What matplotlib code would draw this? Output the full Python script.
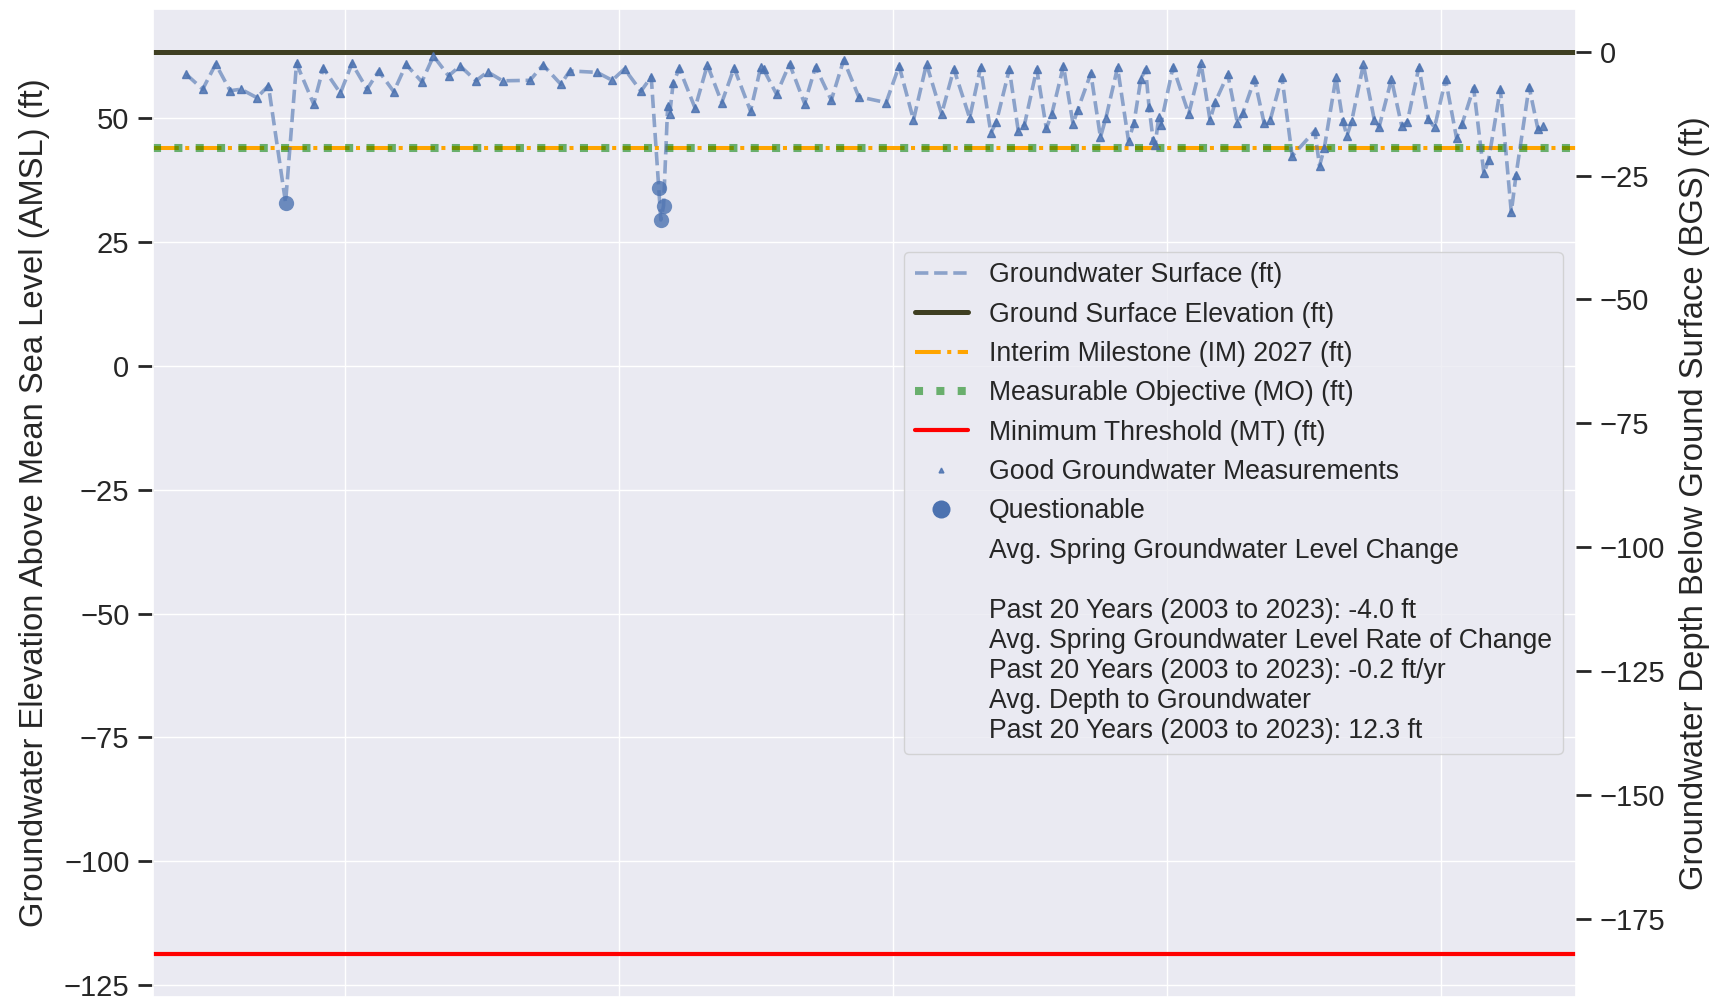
import matplotlib
matplotlib.use("Agg")
import matplotlib.pyplot as plt
from matplotlib.lines import Line2D
from matplotlib.ticker import MultipleLocator
import numpy as np
import seaborn as sns

# Spring/fall water level readings (decimal year, elevation ft AMSL)
good_year = [
    2001.68, 2001.92, 2002.11, 2002.32, 2002.48, 2002.71, 2002.88,
    2003.29, 2003.54, 2003.68, 2003.93,
    2004.10, 2004.32, 2004.49, 2004.71, 2004.89,
    2005.12, 2005.29, 2005.51, 2005.68, 2005.91,
    2006.08, 2006.30, 2006.70, 2006.89,
    2007.15, 2007.28, 2007.68, 2007.90,
    2008.08, 2008.32, 2008.47, 2008.71, 2008.74, 2008.79, 2008.88,
    2009.11, 2009.29, 2009.50, 2009.68, 2009.92,
    2010.07, 2010.11, 2010.30, 2010.49, 2010.71, 2010.87,
    2011.10, 2011.28, 2011.50, 2011.90,
    2012.09, 2012.30, 2012.49, 2012.71, 2012.89,
    2013.12, 2013.28, 2013.43, 2013.51, 2013.70, 2013.83, 2013.92,
    2014.10, 2014.24, 2014.32, 2014.49, 2014.63, 2014.70, 2014.89,
    2015.03, 2015.11, 2015.28, 2015.44, 2015.52, 2015.62, 2015.69,
    2015.74, 2015.80, 2015.83, 2015.88, 2015.91,
    2016.09, 2016.32, 2016.50, 2016.63, 2016.71, 2016.89,
    2017.03, 2017.11, 2017.28, 2017.42, 2017.51, 2017.68, 2017.83,
    2018.16, 2018.23, 2018.30, 2018.47, 2018.57, 2018.63, 2018.70, 2018.87,
    2019.03, 2019.10, 2019.28, 2019.43, 2019.51, 2019.68, 2019.82, 2019.91,
    2020.07, 2020.23, 2020.31, 2020.48, 2020.63, 2020.70, 2020.87,
    2021.03, 2021.10, 2021.29, 2021.42, 2021.50,
]
good_elev = [
    58.9, 55.9, 61.0, 55.6, 55.9, 54.2, 56.6,
    61.1, 52.9, 60.2, 55.1,
    61.1, 55.9, 59.6, 55.4, 60.9,
    57.4, 62.6, 58.6, 60.6, 57.6,
    59.4, 57.6, 57.7, 60.8,
    56.9, 59.6, 59.3, 57.7,
    60.0, 55.5, 58.4, 52.5, 50.9, 57.1, 60.1,
    52.1, 60.8, 53.2, 60.2, 51.5,
    60.4, 59.9, 54.9, 61.0, 53.0, 60.4,
    53.7, 61.8, 54.4, 53.2,
    60.6, 49.7, 61.0, 50.9, 60.0,
    50.1, 60.3, 47.1, 49.3, 59.9, 47.5, 48.7,
    60.0, 48.0, 50.9, 60.6, 48.9, 51.8, 59.1,
    46.2, 50.1, 60.3, 45.5, 49.1, 57.9, 60.0,
    52.3, 45.6, 44.6, 50.2, 48.7,
    60.4, 50.9, 61.1, 49.7, 53.4, 58.9,
    49.1, 51.1, 57.9, 49.1, 49.7, 58.4, 42.4,
    47.5, 40.4, 44.1, 58.3, 49.5, 46.5, 49.5, 60.9,
    49.7, 48.3, 57.9, 48.5, 49.2, 60.3, 49.8, 48.2,
    57.9, 46.1, 48.8, 56.2, 38.9, 41.7, 55.9,
    31.1, 38.6, 56.4, 47.8, 48.5,
]
questionable_year = [2003.13, 2008.58, 2008.61, 2008.65]
questionable_elev = [33.0, 35.9, 29.5, 32.4]

ground_surface_elev = 63.45
interim_milestone = 44.0
measurable_objective = 44.0
minimum_threshold = -118.7

grid_years = [2004, 2008, 2012, 2016, 2020]

stats_label = (
    "Avg. Spring Groundwater Level Change\n\n"
    "Past 20 Years (2003 to 2023): -4.0 ft\n"
    "Avg. Spring Groundwater Level Rate of Change\n"
    "Past 20 Years (2003 to 2023): -0.2 ft/yr\n"
    "Avg. Depth to Groundwater\n"
    "Past 20 Years (2003 to 2023): 12.3 ft"
)

sns.set_theme(style="darkgrid")
plt.rcParams["font.family"] = ["Liberation Sans", "DejaVu Sans"]
FS_LEGEND = 19.15
FS_TICK = 21
FS_LABEL = 23.6

blue = "#4C72B0"

fig = plt.figure(figsize=(17.18, 10.0), dpi=100)
ax = fig.add_axes([0.0891, 0.003, 0.9173 - 0.0891, 0.991 - 0.003])

# full hydrograph (good + questionable readings in time order)
all_year = np.array(good_year + questionable_year)
all_elev = np.array(good_elev + questionable_elev)
order = np.argsort(all_year)
ax.plot(all_year[order], all_elev[order], linestyle="--", color=blue,
        alpha=0.6, linewidth=2.6, zorder=3)
ax.plot(good_year, good_elev, linestyle="none", marker="^", markersize=5.5,
        color=blue, alpha=0.85, zorder=4)
ax.plot(questionable_year, questionable_elev, linestyle="none", marker="o",
        markersize=11, color=blue, alpha=0.8, markeredgewidth=0, zorder=4)

# reference levels
ax.axhline(ground_surface_elev, color="#3f3f22", linewidth=3.6, zorder=2)
ax.axhline(interim_milestone, color="orange", linestyle="-.", linewidth=2.9, zorder=2)
ax.axhline(measurable_objective, color="green", linestyle=":", linewidth=5.8,
           alpha=0.55, zorder=2)
ax.axhline(minimum_threshold, color="red", linewidth=3.0, zorder=2)

ax.set_xlim(2001.195, 2021.974)
ax.set_ylim(-127.4, 72.1)
ax.set_xticks(grid_years)
ax.yaxis.set_major_locator(MultipleLocator(25))
ax.tick_params(axis="x", length=0, labelbottom=False)
ax.tick_params(axis="y", left=True, length=11, width=2, color=".15",
               labelsize=FS_TICK, pad=6)
ax.set_ylabel("Groundwater Elevation Above Mean Sea Level (AMSL) (ft)",
              fontsize=FS_LABEL, labelpad=10)

# depth below ground surface on the right
ax2 = ax.twinx()
lo, hi = ax.get_ylim()
ax2.set_ylim(lo - ground_surface_elev, hi - ground_surface_elev)
ax2.yaxis.set_major_locator(MultipleLocator(25))
ax2.grid(False)
ax2.tick_params(axis="y", right=True, length=11, width=2, color=".15",
                labelsize=FS_TICK, pad=6)
ax2.set_ylabel("Groundwater Depth Below Ground Surface (BGS) (ft)",
               fontsize=FS_LABEL, labelpad=10)
for s in ax2.spines.values():
    s.set_visible(False)

handles = [
    Line2D([], [], color=blue, linestyle="--", alpha=0.6, linewidth=2.6),
    Line2D([], [], color="#3f3f22", linewidth=3.6),
    Line2D([], [], color="orange", linestyle="-.", linewidth=2.9),
    Line2D([], [], color="green", linestyle=":", linewidth=5.8, alpha=0.55),
    Line2D([], [], color="red", linewidth=3.0),
    Line2D([], [], linestyle="none", marker="^", markersize=3.5, color=blue,
           alpha=0.85),
    Line2D([], [], linestyle="none", marker="o", markersize=13, color=blue,
           markeredgewidth=0),
    Line2D([], [], linestyle="none"),
]
labels = [
    "Groundwater Surface (ft)",
    "Ground Surface Elevation (ft)",
    "Interim Milestone (IM) 2027 (ft)",
    "Measurable Objective (MO) (ft)",
    "Minimum Threshold (MT) (ft)",
    "Good Groundwater Measurements",
    "Questionable",
    stats_label,
]
leg = ax2.legend(handles, labels, loc="center right", fontsize=FS_LEGEND,
                 facecolor="#EAEAF2", edgecolor="0.8", framealpha=0.8)

fig.savefig("out.png", dpi=100)
